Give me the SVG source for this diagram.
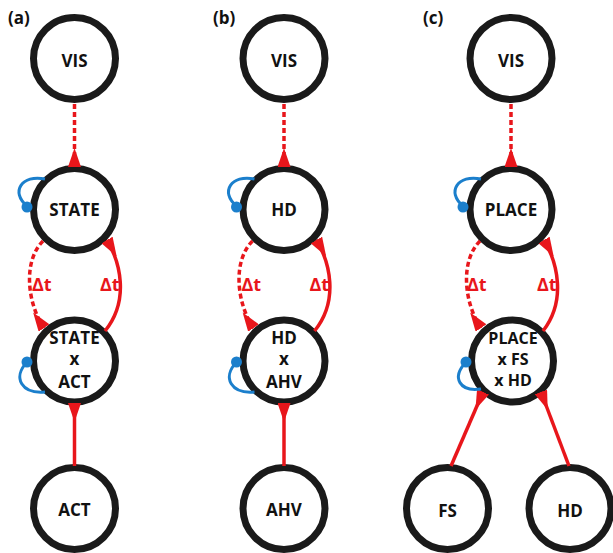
<svg xmlns="http://www.w3.org/2000/svg" width="613" height="553" viewBox="0 0 613 553">
  <style>
    .ring { fill: #ffffff; stroke: #1a1a1a; stroke-width: 7; }
    .lbl { font-family: "Open Sans", "DejaVu Sans", sans-serif; font-weight: 700; font-size: 17px; fill: #111111; text-anchor: middle; }
    .sm { font-size: 16px; }
    .panel { font-family: "Open Sans", "DejaVu Sans", sans-serif; font-weight: 700; font-size: 17px; fill: #111111; }
    .dt { font-family: "Open Sans", "DejaVu Sans", sans-serif; font-weight: 700; font-size: 18px; fill: #e8161b; }
    .red { fill: none; stroke: #e8161b; stroke-width: 3.5; marker-end: url(#tri); }
    .dash { stroke-dasharray: 5 3; }
    .loop { fill: none; stroke: #1b7fcc; stroke-width: 3; }
    .dot { fill: #1b7fcc; }
  </style>
  <defs>
    <marker id="tri" markerUnits="userSpaceOnUse" viewBox="0 0 19 13" refX="19" refY="6.5" markerWidth="19" markerHeight="13" orient="auto">
      <path d="M0,6.5 L19,0 L19,13 Z" fill="#e8161b"/>
    </marker>
  </defs>

  <text class="panel" x="8" y="24">(a)</text>
  <text class="panel" x="213" y="24">(b)</text>
  <text class="panel" x="423" y="24">(c)</text>

  <!-- Nodes column (a) -->
  <g id="a-vis"><circle class="ring" cx="74.5" cy="58.5" r="41"/><text class="lbl" x="74.5" y="67">VIS</text></g>
  <g id="a-state"><circle class="ring" cx="74.5" cy="209.5" r="41"/><text class="lbl" x="74.5" y="216">STATE</text></g>
  <g id="a-stateact"><circle class="ring" cx="74.5" cy="361" r="41"/>
    <text class="lbl" x="74.5" y="344">STATE</text><text class="lbl" x="74.5" y="365">x</text><text class="lbl" x="74.5" y="388">ACT</text></g>
  <g id="a-act"><circle class="ring" cx="74.5" cy="508.5" r="41"/><text class="lbl" x="74.5" y="516">ACT</text></g>

  <!-- Nodes column (b) -->
  <g id="b-vis"><circle class="ring" cx="284" cy="58.5" r="41"/><text class="lbl" x="284" y="67">VIS</text></g>
  <g id="b-hd"><circle class="ring" cx="284" cy="209.5" r="41"/><text class="lbl" x="284" y="216">HD</text></g>
  <g id="b-hdahv"><circle class="ring" cx="284" cy="361" r="41"/>
    <text class="lbl" x="284" y="344">HD</text><text class="lbl" x="284" y="365">x</text><text class="lbl" x="284" y="388">AHV</text></g>
  <g id="b-ahv"><circle class="ring" cx="284" cy="508.5" r="41"/><text class="lbl" x="284" y="516">AHV</text></g>

  <!-- Nodes column (c) -->
  <g id="c-vis"><circle class="ring" cx="511" cy="58.5" r="41"/><text class="lbl" x="511" y="67">VIS</text></g>
  <g id="c-place"><circle class="ring" cx="511" cy="209.5" r="41"/><text class="lbl" x="511" y="216">PLACE</text></g>
  <g id="c-placefshd"><circle class="ring" cx="512.5" cy="361" r="41"/>
    <text class="lbl sm" x="513" y="344">PLACE</text><text class="lbl sm" x="513" y="365">x FS</text><text class="lbl sm" x="513" y="386">x HD</text></g>
  <g id="c-fs"><circle class="ring" cx="447.5" cy="508.5" r="41"/><text class="lbl" x="447.5" y="517">FS</text></g>
  <g id="c-hd"><circle class="ring" cx="570" cy="508.5" r="41"/><text class="lbl" x="570" y="517">HD</text></g>

  <!-- Connectors -->
  <g id="connectors">
    <g id="conn-a">
      <path class="red dash" d="M74.5,104 L74.5,167"/>
      <path class="red dash" d="M43,241 C22,262 28,305 44,328"/>
      <path class="red" d="M105,331 C130,300 120,262 107,240"/>
      <path class="red" d="M74.5,466 L74.5,403"/>
      <path class="loop" d="M45,179 C22,174 10,192 27,206"/><circle class="dot" cx="27" cy="207" r="5.5"/>
      <path class="loop" d="M27,362 C12,378 22,394 45,392"/><circle class="dot" cx="27" cy="362" r="5.5"/>
      <text class="dt" x="32" y="291">Δt</text>
      <text class="dt" x="100" y="291">Δt</text>
    </g>
    <g id="conn-b" transform="translate(209.5,0)">
      <path class="red dash" d="M74.5,104 L74.5,167"/>
      <path class="red dash" d="M43,241 C22,262 28,305 44,328"/>
      <path class="red" d="M105,331 C130,300 120,262 107,240"/>
      <path class="red" d="M74.5,466 L74.5,403"/>
      <path class="loop" d="M45,179 C22,174 10,192 27,206"/><circle class="dot" cx="27" cy="207" r="5.5"/>
      <path class="loop" d="M27,362 C12,378 22,394 45,392"/><circle class="dot" cx="27" cy="362" r="5.5"/>
      <text class="dt" x="32" y="291">Δt</text>
      <text class="dt" x="100" y="291">Δt</text>
    </g>
    <g id="conn-c">
      <path class="red dash" d="M511,104 L511,167"/>
      <path class="red dash" d="M480,241 C459,262 465,305 481,328"/>
      <path class="red" d="M543,331 C567,300 557,262 544,240"/>
      <path class="red" d="M451,466 L483,392"/>
      <path class="red" d="M569,466 L541,392"/>
      <path class="loop" d="M481,179 C458,174 446,192 463,206"/><circle class="dot" cx="463" cy="207" r="5.5"/>
      <path class="loop" d="M466,362 C451,378 460,392 481,389"/><circle class="dot" cx="466" cy="362" r="5.5"/>
      <text class="dt" x="467" y="291">Δt</text>
      <text class="dt" x="537" y="291">Δt</text>
    </g>
  </g>
</svg>
